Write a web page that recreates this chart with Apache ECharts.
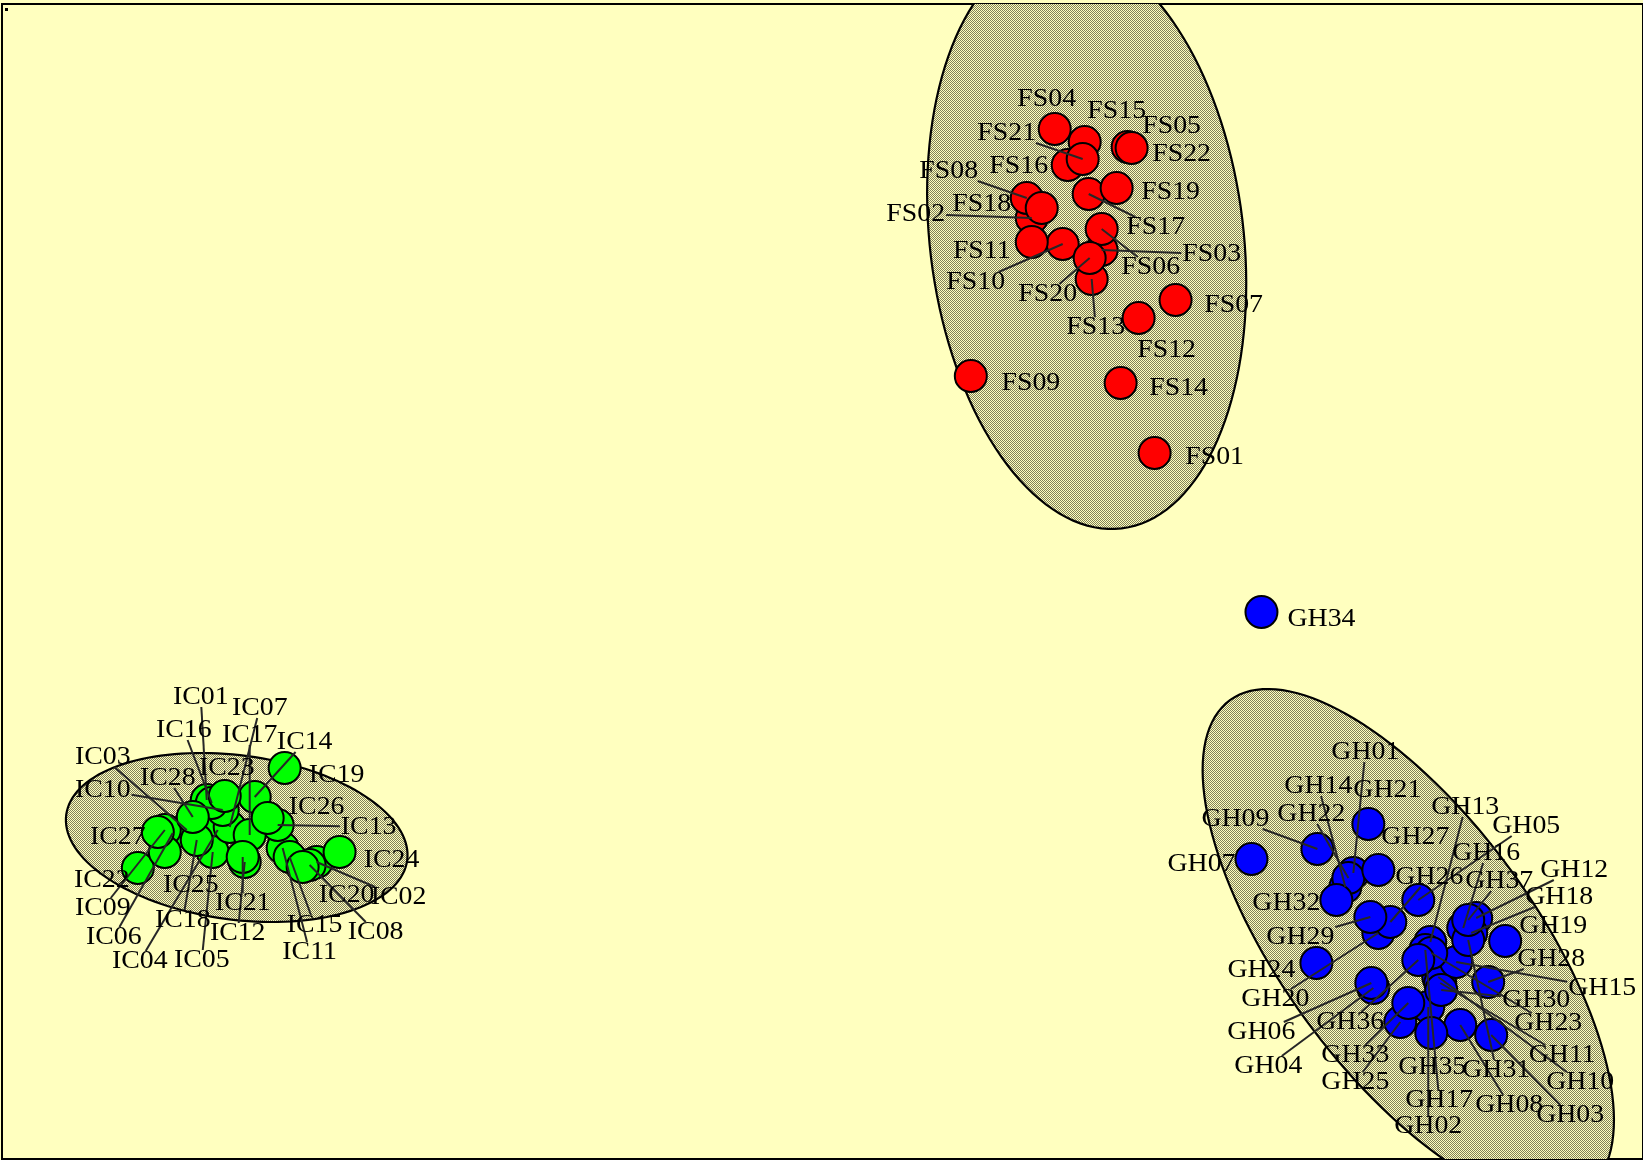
<!DOCTYPE html>
<html>
<head>
<meta charset="utf-8">
<script src="https://cdn.jsdelivr.net/npm/echarts@6/dist/echarts.min.js"></script>
<style>
  html, body { margin: 0; padding: 0; background: #FFFFBF; }
  #chart { width: 1643px; height: 1160px; }
</style>
</head>
<body>
<div id="chart"></div>
<script>
// ---- Group FS (ordination scores, dimension 1 / dimension 2) ----
const FS_NAMES = ['FS01','FS02','FS03','FS04','FS05','FS06','FS07','FS08','FS09','FS10','FS11',
                  'FS12','FS13','FS14','FS15','FS16','FS17','FS18','FS19','FS20','FS21','FS22'];
const FS_X = [115.4, 103.1, 110.1, 105.4, 112.7, 110.1, 117.5, 102.6, 97.0, 106.2, 103.1,
              113.8, 109.1, 112.0, 108.4, 106.7, 108.8, 104.1, 111.6, 108.9, 108.2, 113.1];
const FS_Y = [70.6, 94.1, 90.9, 103.0, 101.2, 93.0, 85.9, 96.1, 78.3, 91.5, 91.7,
              84.1, 88.0, 77.6, 101.7, 99.4, 96.5, 95.1, 97.1, 90.1, 100.0, 101.1];

// ---- Group GH ----
const GH_NAMES = ['GH01','GH02','GH03','GH04','GH05','GH06','GH07','GH08','GH09','GH10',
                  'GH11','GH12','GH13','GH14','GH15','GH16','GH17','GH18','GH19','GH20',
                  'GH21','GH22','GH23','GH24','GH25','GH26','GH27','GH28','GH29','GH30',
                  'GH31','GH32','GH33','GH34','GH35','GH36','GH37'];
const GH_X = [135.3, 142.8, 149.1, 137.3, 141.8, 137.1, 125.1, 146.0, 131.7, 143.8,
              144.0, 147.6, 143.0, 134.5, 145.6, 146.3, 142.5, 147.1, 150.5, 137.8,
              136.8, 134.8, 143.1, 131.6, 140.0, 139.0, 137.8, 148.8, 137.0, 144.1,
              146.8, 133.6, 140.8, 126.1, 143.1, 141.8, 146.8];
const GH_Y = [28.6, 15.2, 12.4, 17.1, 25.9, 17.6, 30.0, 13.4, 31.0, 18.2,
              17.6, 24.1, 21.7, 27.2, 19.7, 23.1, 20.9, 22.6, 21.8, 22.6,
              33.5, 28.1, 20.6, 19.6, 13.7, 23.7, 28.9, 17.7, 24.2, 16.9,
              21.9, 25.9, 15.6, 54.7, 12.6, 19.9, 23.9];

// ---- Group IC ----
const IC_NAMES = ['IC01','IC02','IC03','IC04','IC05','IC06','IC07','IC08','IC09','IC10',
                  'IC11','IC12','IC13','IC14','IC15','IC16','IC17','IC18','IC19','IC20',
                  'IC21','IC22','IC23','IC24','IC25','IC26','IC27','IC28'];
const IC_X = [20.5, 31.5, 18.5, 21.6, 21.1, 17.1, 22.8, 30.8, 16.3, 22.1,
              28.1, 24.3, 27.6, 25.3, 28.8, 21.0, 24.8, 19.5, 28.3, 30.1,
              24.1, 13.6, 22.3, 33.8, 16.3, 26.6, 15.6, 19.1];
const IC_Y = [35.9, 29.7, 32.9, 32.9, 30.7, 32.6, 33.2, 29.4, 32.9, 34.9,
              31.1, 29.7, 33.4, 36.2, 30.2, 35.6, 32.4, 31.9, 39.1, 29.2,
              30.2, 29.1, 36.3, 30.7, 30.7, 34.1, 32.7, 34.2];

// ---- Group ellipses: centre, semi-axes and rotation (degrees) ----
const ELLIPSE_CX    = [108.6, 140.8, 23.5];
const ELLIPSE_CY    = [92.05, 21.4, 32.15];
const ELLIPSE_RX    = [29.2, 30.3, 17.22];
const ELLIPSE_RY    = [15.7, 12.7, 8.21];
const ELLIPSE_ANGLE = [96.9, -53.9, -7.6];

// ---- Label placement: pixel offset of each label from its point ----
const LABEL_OFFSETS = {
  FS01:[60,4], FS02:[-116,-4], FS03:[110,4], FS04:[-8,-30], FS05:[44,-21], FS06:[49,38],
  FS07:[58,5], FS08:[-78,-27], FS09:[60,7], FS10:[-87,38], FS11:[-50,9], FS12:[28,32],
  FS13:[4,48], FS14:[58,5], FS15:[32,-31], FS16:[-49,1], FS17:[67,33], FS18:[-60,-4],
  FS19:[54,4], FS20:[-42,36], FS21:[-76,-26], FS22:[50,6],
  GH01:[12,-121], GH02:[0,119], GH03:[79,80], GH04:[-105,78], GH05:[108,-74], GH06:[-110,49],
  GH07:[-50,5], GH08:[49,80], GH09:[-82,-30], GH10:[142,105], GH11:[122,72], GH12:[98,-48],
  GH13:[35,-135], GH14:[-27,-101], GH15:[146,26], GH16:[23,-75], GH17:[14,150], GH18:[88,-36],
  GH19:[48,-15], GH20:[-103,66], GH21:[19,-34], GH22:[-37,-64], GH23:[117,70], GH24:[-55,7],
  GH25:[-45,60], GH26:[39,-45], GH27:[37,-33], GH28:[63,-23], GH29:[-70,20], GH30:[95,10],
  GH31:[28,130], GH32:[-50,3], GH33:[-53,52], GH34:[60,7], GH35:[1,34], GH36:[-68,62],
  GH37:[31,-39],
  IC01:[-6,-103], IC02:[82,35], IC03:[-84,-73], IC04:[-78,131], IC05:[-11,108], IC06:[-59,104],
  IC07:[30,-119], IC08:[66,67], IC09:[-62,78], IC10:[-120,-20], IC11:[27,104], IC12:[-7,71],
  IC13:[91,2], IC14:[50,-55], IC15:[25,68], IC16:[-28,-73], IC17:[0,-100], IC18:[-14,80],
  IC19:[52,7], IC20:[44,28], IC21:[0,46], IC22:[-36,12], IC23:[2,-28], IC24:[52,8],
  IC25:[26,33], IC26:[49,-11], IC27:[-40,5], IC28:[-25,-39]
};

const BG = '#FFFFBF';
const LABEL_FAMILY = '"Liberation Serif", "Times New Roman", serif';
const LABEL_SIZE = 26;
const LABEL_SCALE_X = 1.07;

// 1-pixel checker tile used to shade the group ellipses
const tile = document.createElement('canvas');
tile.width = 2; tile.height = 2;
const tctx = tile.getContext('2d');
tctx.fillStyle = BG; tctx.fillRect(0, 0, 2, 2);
tctx.fillStyle = '#80805A'; tctx.fillRect(0, 0, 1, 1); tctx.fillRect(1, 1, 1, 1);
const CHECKER = { image: tile, repeat: 'repeat' };

const measureCtx = document.createElement('canvas').getContext('2d');
measureCtx.font = LABEL_SIZE + 'px ' + LABEL_FAMILY;
function textWidth(s) { return measureCtx.measureText(s).width * LABEL_SCALE_X; }
function hasLeader(off) { return Math.hypot(off[0], off[1]) > 62 || Math.abs(off[1]) > 35; }

function pointSeries(names, xs, ys, color) {
  return {
    type: 'scatter',
    silent: true,
    z: 3,
    symbol: 'circle',
    symbolSize: 32,
    itemStyle: { color: color, borderColor: '#000', borderWidth: 2, opacity: 1 },
    label: { show: false },
    data: names.map((n, i) => ({ name: n, value: [xs[i], ys[i]] }))
  };
}

function labelSeries(names, xs, ys) {
  return {
    type: 'custom',
    silent: true,
    z: 5,
    data: names.map((n, i) => [xs[i], ys[i]]),
    renderItem: function (params, api) {
      const name = names[params.dataIndex];
      const p = api.coord([api.value(0), api.value(1)]);
      const off = LABEL_OFFSETS[name];
      const lx = p[0] + off[0], ly = p[1] + off[1];
      const children = [];
      if (hasLeader(off)) {
        const hw = textWidth(name) / 2 + 1, hh = 10;
        const t = Math.min(hw / Math.max(Math.abs(off[0]), 1e-6),
                           hh / Math.max(Math.abs(off[1]), 1e-6), 1);
        children.push({
          type: 'line', z2: 1,
          shape: { x1: p[0], y1: p[1], x2: lx - off[0] * t, y2: ly - off[1] * t },
          style: { stroke: '#262626', lineWidth: 2 }
        });
      }
      children.push({
        type: 'text', z2: 2,
        x: lx, y: ly, scaleX: LABEL_SCALE_X,
        style: {
          text: name, x: 0, y: 0, fill: '#000',
          fontFamily: LABEL_FAMILY, fontSize: LABEL_SIZE,
          align: 'center', verticalAlign: 'middle'
        }
      });
      return { type: 'group', children: children };
    }
  };
}

const ellipseSeries = {
  type: 'custom',
  silent: true,
  clip: true,
  z: 1,
  data: ELLIPSE_CX.map((cx, i) => [cx, ELLIPSE_CY[i], ELLIPSE_RX[i], ELLIPSE_RY[i], ELLIPSE_ANGLE[i]]),
  renderItem: function (params, api) {
    const cx = api.value(0), cy = api.value(1), rx = api.value(2), ry = api.value(3);
    const a = api.value(4) * Math.PI / 180;
    const pts = [];
    const n = 144;
    for (let k = 0; k < n; k++) {
      const t = k / n * 2 * Math.PI;
      const ex = rx * Math.cos(t), ey = ry * Math.sin(t);
      pts.push(api.coord([cx + ex * Math.cos(a) - ey * Math.sin(a),
                          cy + ex * Math.sin(a) + ey * Math.cos(a)]));
    }
    return {
      type: 'polygon',
      shape: { points: pts },
      style: { fill: CHECKER, stroke: '#000', lineWidth: 2.2 }
    };
  }
};

const chart = echarts.init(document.getElementById('chart'), null, { renderer: 'canvas' });
chart.setOption({
  animation: false,
  backgroundColor: BG,
  grid: {
    left: 2, top: 4, width: 1643, height: 1155,
    show: true, borderColor: '#000', borderWidth: 2, backgroundColor: 'transparent'
  },
  xAxis: { type: 'value', min: 0, max: 164.3, show: false, splitLine: { show: false } },
  yAxis: { type: 'value', min: 0, max: 115.5, show: false, splitLine: { show: false } },
  graphic: [{ type: 'rect', left: 5, top: 8, shape: { width: 3, height: 3 }, style: { fill: '#000' } }],
  series: [
    ellipseSeries,
    pointSeries(FS_NAMES, FS_X, FS_Y, '#FF0000'),
    pointSeries(GH_NAMES, GH_X, GH_Y, '#0000FF'),
    pointSeries(IC_NAMES, IC_X, IC_Y, '#00FF00'),
    labelSeries(FS_NAMES, FS_X, FS_Y),
    labelSeries(GH_NAMES, GH_X, GH_Y),
    labelSeries(IC_NAMES, IC_X, IC_Y)
  ]
});
</script>
</body>
</html>
